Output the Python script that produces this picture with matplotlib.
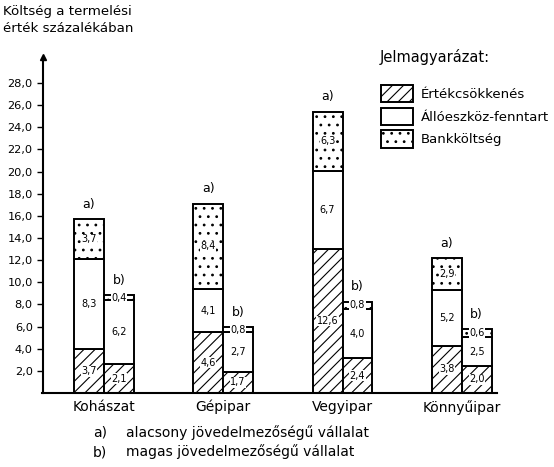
import matplotlib
matplotlib.use('Agg')
import matplotlib.pyplot as plt
import matplotlib.patches as mpatches
import numpy as np

# data (heights, labels as printed)
categories = ['Kohászat', 'Gépipar', 'Vegyipar', 'Könnyűipar']
hatch_a = [3.95, 5.5, 13.0, 4.25]
white_a = [8.13, 3.9, 7.05, 5.05]
dots_a = [3.63, 7.7, 5.35, 2.9]
hatch_b = [2.6, 1.9, 3.13, 2.44]
white_b = [5.8, 3.6, 4.47, 2.6]
dots_b = [0.45, 0.45, 0.65, 0.72]

lab_hatch_a = ['3,7', '4,6', '12,6', '3,8']
lab_white_a = ['8,3', '4,1', '6,7', '5,2']
lab_dots_a = ['3,7', '8,4', '6,3', '2,9']
lab_hatch_b = ['2,1', '1,7', '2,4', '2,0']
lab_white_b = ['6,2', '2,7', '4,0', '2,5']
lab_dots_b = ['0,4', '0,8', '0,8', '0,6']

yticks = [2, 4, 6, 8, 10, 12, 14, 16, 18, 20, 22, 24, 26, 28]
ytick_labels = ['%d,0' % v for v in yticks]
legend_labels = ['Értékcsökkenés', 'Állóeszköz-fenntart', 'Bankköltség']

plt.rcParams['font.family'] = ['DejaVu Sans']
plt.rcParams['hatch.linewidth'] = 0.8

W, H = 554, 467
fig = plt.figure(figsize=(W / 100, H / 100), dpi=100)
# axes placed in pixel terms: left 42.5, baseline 393, top 57, right 497
ax = fig.add_axes([42.5 / W, (H - 393) / H, (497 - 42.5) / W, (393 - 57) / H])

x = np.arange(len(categories))
width = 0.25
xa = x - width / 2
xb = x + width / 2

def stack(xs, segs, labs):
	bottom = np.zeros(len(xs))
	styles = [dict(facecolor='white', hatch='///'),
		dict(facecolor='white'),
		dict(facecolor='white', hatch='..')]
	for seg, lab, st in zip(segs, labs, styles):
		seg = np.array(seg)
		ax.bar(xs, seg, width, bottom=bottom, edgecolor='black', linewidth=1.4, **st)
		for xi, b, h, t in zip(xs, bottom, seg, lab):
			ax.text(xi, b + h / 2, t, ha='center', va='center', fontsize=7,
				bbox=dict(facecolor='white', edgecolor='none', pad=0.3))
		bottom = bottom + seg
	return bottom

top_a = stack(xa, [hatch_a, white_a, dots_a], [lab_hatch_a, lab_white_a, lab_dots_a])
top_b = stack(xb, [hatch_b, white_b, dots_b], [lab_hatch_b, lab_white_b, lab_dots_b])

for xi, t in zip(xa, top_a):
	ax.annotate('a)', (xi, t), xytext=(0, 6), textcoords='offset points',
		ha='center', va='bottom', fontsize=9)
for xi, t in zip(xb, top_b):
	ax.annotate('b)', (xi, t), xytext=(0, 6), textcoords='offset points',
		ha='center', va='bottom', fontsize=9)

ax.set_xlim(-0.515, 3.295)
ax.set_ylim(0, 30.35)
ax.set_yticks(yticks)
ax.set_yticklabels(ytick_labels, fontsize=8.2)
ax.set_xticks(x)
ax.set_xticklabels(categories, fontsize=10)
ax.tick_params(axis='x', length=0, pad=5)
ax.tick_params(axis='y', length=4, width=1, pad=3)
for s in ['top', 'right']:
	ax.spines[s].set_visible(False)
ax.spines['left'].set_linewidth(1.5)
ax.spines['bottom'].set_linewidth(1.5)
ax.plot(0, 1, marker='^', color='black', markersize=5, transform=ax.transAxes, clip_on=False)

# legend
handles = [mpatches.Patch(facecolor='white', edgecolor='black', hatch='///', linewidth=1.4),
	mpatches.Patch(facecolor='white', edgecolor='black', linewidth=1.4),
	mpatches.Patch(facecolor='white', edgecolor='black', hatch='..', linewidth=1.4)]
fig.text(380 / W, 1 - 57 / H, 'Jelmagyarázat:', fontsize=10.5, va='center', ha='left')
fig.legend(handles, legend_labels, loc='upper left', bbox_to_anchor=(381 / W, 1 - 85 / H),
	frameon=False, fontsize=9.5, handlelength=2.4, handleheight=1.65,
	labelspacing=0.4, handletextpad=0.6, borderpad=0, borderaxespad=0)

# axis title and footnotes
fig.text(3 / W, 1 - 12 / H, 'Költség a termelési', fontsize=9.6, va='center', ha='left')
fig.text(3 / W, 1 - 28 / H, 'érték százalékában', fontsize=9.6, va='center', ha='left')
fig.text(93 / W, 1 - 433 / H, 'a)', fontsize=10, va='center', ha='left')
fig.text(126 / W, 1 - 433 / H, 'alacsony jövedelmezőségű vállalat', fontsize=10, va='center', ha='left')
fig.text(93 / W, 1 - 452 / H, 'b)', fontsize=10, va='center', ha='left')
fig.text(126 / W, 1 - 452 / H, 'magas jövedelmezőségű vállalat', fontsize=10, va='center', ha='left')

fig.savefig('out.png', dpi=100)
